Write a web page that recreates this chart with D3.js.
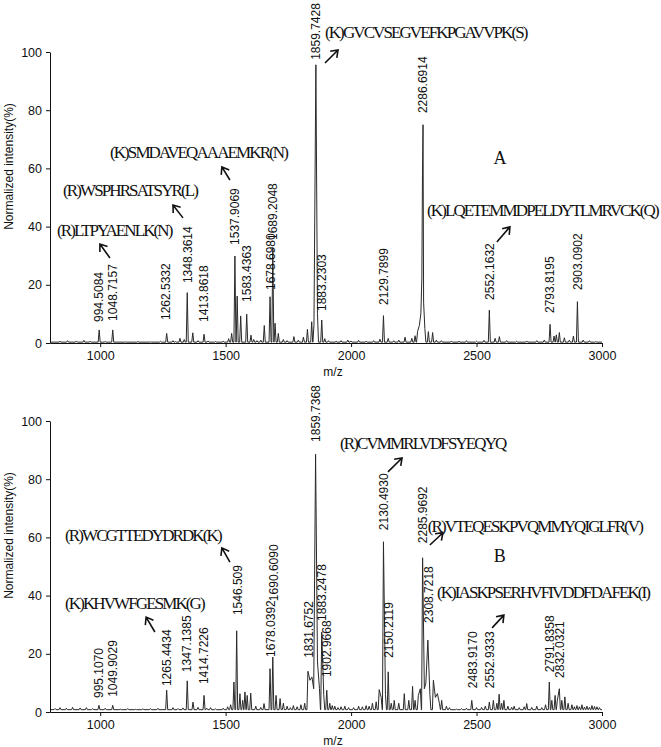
<!DOCTYPE html>
<html>
<head>
<meta charset="utf-8">
<script src="https://cdn.jsdelivr.net/npm/d3@7"></script>
<style>
  body { margin: 0; background: #fff; }
  .tick text { font-family: "Liberation Sans", Arial, sans-serif; font-size: 12.5px; fill: #111; }
  .peak-label { font-family: "Liberation Sans", Arial, sans-serif; font-size: 12px; fill: #111; }
  .peptide { font-family: "Liberation Serif", "Times New Roman", serif; font-size: 17px; letter-spacing: -1.9px; fill: #111; }
  .panel-name { font-family: "Liberation Serif", "Times New Roman", serif; font-size: 18px; fill: #111; }
  .axis-title { font-family: "Liberation Sans", Arial, sans-serif; font-size: 12px; fill: #111; }
</style>
</head>
<body>
<div id="chart"></div>
<script>
// tick values
const mzTicks = [1000, 1500, 2000, 2500, 3000];
const intensityTicks = [0, 20, 40, 60, 80, 100];

// panel A: main peaks [m/z, intensity %]
const peaksA = [
  [996, 4.5], [1050, 4.5], [1265, 3.3], [1318, 1.6], [1347, 17.3], [1369, 3.5], [1414, 3.0],
  [1524, 3.3], [1537, 29.9], [1546, 16.1], [1560, 9.3], [1584, 9.9], [1601, 2.7],
  [1654, 6.0], [1677, 15.9], [1688, 32.8], [1697, 6.8], [1710, 3.3], [1772, 2.2],
  [1826, 4.7], [1843, 7.3], [1852, 6.2], [1859.7, 95.6], [1866, 10.2], [1883, 7.9],
  [1987, 1.0], [2115, 1.3], [2129, 9.4], [2148, 1.6], [2215, 2.0], [2242, 1.6],
  [2255, 2.5], [2265, 4], [2272, 6], [2278, 10], [2282, 22], [2284.5, 58], [2286.7, 75],
  [2289, 14], [2294, 5], [2308, 3.9], [2325, 3.6], [2551, 11.3], [2574, 1.6], [2591, 2.2],
  [2793, 6.4], [2809, 2.4], [2818, 2.8], [2830, 3.6], [2886, 2.4], [2902, 14.2], [2925, 1.0]
];
// panel A: baseline noise
const noiseA = [
  [840, 0.6], [870, 0.8], [905, 0.7], [935, 0.9], [960, 0.6], [1020, 0.5], [1100, 0.4],
  [1150, 0.5], [1200, 0.4], [1240, 0.6], [1290, 0.8], [1300, 0.5], [1335, 1.2], [1390, 0.8],
  [1430, 0.7], [1460, 0.5], [1490, 0.6], [1512, 1.5], [1612, 1.2], [1625, 0.8], [1640, 1.0],
  [1730, 1.2], [1745, 0.8], [1790, 1.0], [1810, 2.0], [1895, 1.5], [1910, 0.8], [1940, 0.6],
  [1960, 0.8], [2000, 0.7], [2030, 0.9], [2060, 0.6], [2090, 0.8], [2170, 0.8], [2190, 1.0],
  [2340, 1.0], [2360, 0.8], [2400, 0.7], [2430, 0.6], [2460, 0.8], [2500, 0.6], [2530, 0.9],
  [2620, 0.8], [2660, 0.6], [2700, 0.7], [2740, 0.8], [2770, 1.0], [2850, 1.8], [2870, 1.0],
  [2950, 0.8], [2975, 0.5]
];
// panel A: rotated peak labels [text, intensity at label foot]
const labelsA = [
  ["994.5084", 7.2], ["1048.7157", 7.6], ["1262.5332", 7.9], ["1348.3614", 20.6],
  ["1413.8618", 7.2], ["1537.9069", 33.7], ["1583.4363", 14.1], ["1678.6980", 18.2],
  ["1689.2048", 35.4], ["1859.7428", 97.3], ["1883.2303", 11], ["2129.7899", 13.1],
  ["2286.6914", 79], ["2552.1632", 14.8], ["2793.8195", 10.3], ["2903.0902", 18.2]
];
// panel A: peptide sequences [text, m/z at start, intensity at middle]
const peptidesA = [
  ["(K)GVCVSEGVEFKPGAVVPK(S)", 1896, 106.9],
  ["(K)SMDAVEQAAAEMKR(N)", 1039, 65.6],
  ["(R)WSPHRSATSYR(L)", 852, 52.6],
  ["(R)LTPYAENLK(N)", 828, 38.8],
  ["(K)LQETEMMDPELDYTLMRVCK(Q)", 2303, 45.7]
];
// panel A: arrows [tail m/z, tail int, head m/z, head int]
const arrowsA = [
  [1896, 96.2, 1948, 100.7],
  [1517, 56, 1485, 60.5],
  [1330, 43, 1290, 47.4],
  [1039, 29.2, 999, 34],
  [2581, 34.7, 2633, 39.9]
];

// panel B
const peaksB = [
  [995, 2.3], [1050, 2.3], [1265, 7.5], [1347, 10.7], [1370, 3.4], [1414, 5.7], [1440, 1.5],
  [1520, 2.5], [1533, 10.3], [1544, 27.9], [1557, 6.3], [1568, 4], [1577, 6.9], [1586, 5.7],
  [1600, 6.5], [1653, 2.9], [1677, 14.9], [1688, 18.9], [1701, 5.7], [1717, 4.6], [1745, 2],
  [1770, 2.2], [1800, 2.5], [1815, 3], [1828, 14], [1836, 10.9], [1844, 12], [1851, 8],
  [1858.5, 88.6], [1866, 17.2], [1874, 8], [1883, 27.5], [1891, 6], [1903, 7.5], [1915, 3],
  [1935, 2], [1960, 1.8], [1990, 1.5], [2030, 2], [2060, 2.2], [2085, 3], [2100, 3.5],
  [2112, 7.7], [2120, 5], [2129, 58.5], [2137, 6], [2148, 13.8], [2160, 3], [2172, 4],
  [2190, 3], [2212, 6.3], [2230, 4], [2245, 8.8], [2255, 4], [2268, 5.7], [2276, 8],
  [2285, 53], [2292, 8], [2298, 10], [2306, 24.7], [2314, 6], [2328, 10.9], [2336, 5],
  [2344, 6.3], [2352, 3], [2361, 4], [2380, 2], [2481, 4], [2551, 3.4], [2567, 4], [2581, 3],
  [2590, 6.1], [2600, 3], [2609, 4], [2650, 2], [2700, 2.9], [2740, 2], [2775, 2.5],
  [2790, 10.3], [2800, 4], [2813, 5.7], [2822, 4], [2830, 8], [2840, 4], [2852, 5.2],
  [2865, 3], [2880, 2.5], [2900, 2.2], [2920, 2.5], [2940, 2], [2960, 2.2], [2980, 1.8]
];
const noiseB = [
  [820, 1.2], [840, 1.5], [865, 1.3], [890, 1.6], [920, 1.4], [945, 1.5], [970, 1.2],
  [1020, 1.3], [1080, 1], [1110, 1.2], [1140, 0.9], [1170, 1.1], [1200, 1.2], [1230, 1.3],
  [1290, 1.5], [1310, 1.2], [1330, 1.4], [1390, 1.6], [1425, 1.3], [1460, 1.1], [1490, 1.3],
  [1508, 1.8], [1620, 2], [1640, 1.6], [1730, 3], [1758, 1.5], [1785, 1.8], [1925, 2.2],
  [1948, 1.5], [1975, 2], [2010, 1.5], [2045, 1.8], [2072, 2], [2392, 1.5], [2420, 1],
  [2440, 1.2], [2460, 1.3], [2500, 1.5], [2520, 1.6], [2535, 2], [2625, 2], [2640, 1.6],
  [2670, 1.5], [2690, 1.8], [2720, 1.6], [2760, 1.5], [2890, 1.8], [2910, 1.8], [2930, 1.7],
  [2950, 1.6], [2970, 1.9], [2990, 1.5]
];
const labelsB = [
  ["995.1070", 4.8], ["1049.9029", 5.2], ["1265.4434", 8.9], ["1347.1385", 13.7],
  ["1414.7226", 9.6], ["1546.509", 33.3], ["1678.0392", 18.9], ["1690.6090", 38.1],
  ["1831.6752", 18.6], ["1859.7368", 92.8], ["1883.2478", 31.3], ["1902.9668", 12],
  ["2130.4930", 62.5], ["2150.2119", 18.6], ["2285.9692", 58], ["2308.7218", 30.6],
  ["2483.9170", 8.2], ["2552.9333", 8.2], ["2791.8358", 13.7], ["2832.0321", 11.7]
];
const peptidesB = [
  ["(R)CVMMRLVDFSYEQYQ", 1956, 92.4],
  ["(R)VTEQESKPVQMMYQIGLFR(V)", 2306, 63.9],
  ["(K)IASKPSERHVFIVDDFDAFEK(I)", 2342, 41.2],
  ["(R)WCGTTEDYDRDK(K)", 860, 60.8],
  ["(K)KHVWFGESMK(G)", 860, 37.5]
];
const arrowsB = [
  [2147, 82.5, 2203, 87.3],
  [2314, 57.4, 2366, 61.6],
  [2562, 28.9, 2609, 33.3],
  [1517, 51.5, 1485, 56.4],
  [1218, 27.5, 1183, 32.6]
];

const width = 661, height = 747;
const svg = d3.select('#chart').append('svg')
  .attr('width', width)
  .attr('height', height);

const x = d3.scaleLinear().domain([800, 3000]).range([50, 602]);
const halfWidth = 4; // m/z half base of a spike

function tracePoints(peaks, base) {
  const pts = [[800, base]];
  peaks.forEach((p, i) => {
    const prev = peaks[i - 1], next = peaks[i + 1];
    if (!prev || p[0] - prev[0] > 2 * halfWidth) pts.push([p[0] - halfWidth, base]);
    pts.push(p);
    if (!next || next[0] - p[0] > 2 * halfWidth) pts.push([p[0] + halfWidth, base]);
  });
  pts.push([3000, base]);
  return pts;
}

function drawPanel(cfg) {
  const y = d3.scaleLinear().domain([0, 100]).range([cfg.top + 291, cfg.top]);
  const g = svg.append('g');

  // spectrum
  const all = cfg.peaks.concat(cfg.noise).sort((a, b) => a[0] - b[0]);
  const line = d3.line().x(d => x(d[0])).y(d => y(d[1]));
  g.append('path')
    .attr('d', line(tracePoints(all, cfg.base)))
    .attr('fill', 'none')
    .attr('stroke', '#2a2a2a')
    .attr('stroke-width', 1)
    .attr('stroke-linejoin', 'round');

  // axes
  const xAxis = g.append('g')
    .attr('transform', `translate(0,${y(0)})`)
    .call(d3.axisBottom(x).tickValues(mzTicks).tickFormat(d3.format('d'))
      .tickSize(4).tickSizeOuter(0).tickPadding(4));
  const yAxis = g.append('g')
    .attr('transform', `translate(${x(800)},0)`)
    .call(d3.axisLeft(y).tickValues(intensityTicks).tickFormat(d3.format('d'))
      .tickSize(4).tickSizeOuter(0).tickPadding(4));
  [xAxis, yAxis].forEach(a => {
    a.attr('font-family', null).attr('font-size', null);
    a.selectAll('path, line').attr('stroke', '#111');
  });

  g.append('text')
    .attr('class', 'axis-title')
    .attr('text-anchor', 'middle')
    .attr('x', 333)
    .attr('y', y(0) + 33)
    .text('m/z');

  g.append('text')
    .attr('class', 'axis-title')
    .attr('text-anchor', 'middle')
    .attr('transform', `translate(13,${y(50) - 31}) rotate(-90)`)
    .text('Normalized intensity(%)');

  // peak labels
  g.selectAll('.peak-label')
    .data(cfg.labels)
    .enter()
    .append('text')
    .attr('class', 'peak-label')
    .attr('transform', d => `translate(${x(parseFloat(d[0]))},${y(d[1])}) rotate(-90)`)
    .attr('dy', '0.35em')
    .text(d => d[0]);

  // peptide names
  g.selectAll('.peptide')
    .data(cfg.peptides)
    .enter()
    .append('text')
    .attr('class', 'peptide')
    .attr('x', d => x(d[1]))
    .attr('y', d => y(d[2]))
    .attr('dy', '0.35em')
    .text(d => d[0]);

  // arrows
  cfg.arrows.forEach(a => {
    const x1 = x(a[0]), y1 = y(a[1]), x2 = x(a[2]), y2 = y(a[3]);
    const ang = Math.atan2(y2 - y1, x2 - x1);
    const len = 8, spread = Math.PI / 5;
    const p = d3.path();
    p.moveTo(x1, y1);
    p.lineTo(x2, y2);
    p.moveTo(x2 - len * Math.cos(ang - spread), y2 - len * Math.sin(ang - spread));
    p.lineTo(x2, y2);
    p.lineTo(x2 - len * Math.cos(ang + spread), y2 - len * Math.sin(ang + spread));
    g.append('path')
      .attr('d', p.toString())
      .attr('fill', 'none')
      .attr('stroke', '#111')
      .attr('stroke-width', 1.6);
  });

  g.append('text')
    .attr('class', 'panel-name')
    .attr('text-anchor', 'middle')
    .attr('x', x(cfg.name[1]))
    .attr('y', y(cfg.name[2]))
    .attr('dy', '0.35em')
    .text(cfg.name[0]);
}

drawPanel({ top: 52, base: 0.3, peaks: peaksA, noise: noiseA, labels: labelsA,
  peptides: peptidesA, arrows: arrowsA, name: ['A', 2593, 63.6] });
drawPanel({ top: 421, base: 0.8, peaks: peaksB, noise: noiseB, labels: labelsB,
  peptides: peptidesB, arrows: arrowsB, name: ['B', 2593, 53.6] });
</script>
</body>
</html>
